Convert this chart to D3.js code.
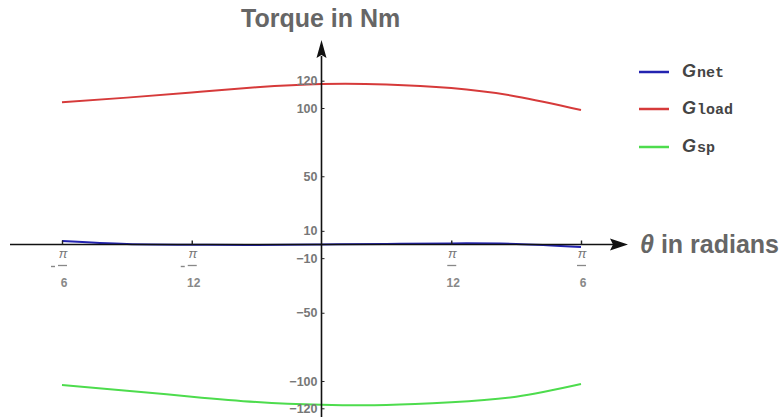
<!DOCTYPE html>
<html>
<head>
<meta charset="utf-8">
<script src="https://cdn.jsdelivr.net/npm/d3@7"></script>
<style>
  body { margin: 0; background: #fff; }
  text { font-family: "Liberation Sans", Arial, sans-serif; }
</style>
</head>
<body>
<div id="chart"></div>
<script>
var PI = Math.PI;
// sample angles, -pi/6 .. pi/6 in pi/24 steps
var theta = [-PI/6, -PI/8, -PI/12, -PI/24, 0, PI/24, PI/12, PI/8, PI/6];
var gNet  = [2.5, 0.3, -0.2, -0.3, 0, 0.4, 0.8, 0.4, -1.8];
var gLoad = [104.2, 107.6, 111.4, 115.2, 117.6, 117.3, 114.6, 108.5, 98.5];
var gSp   = [-102.9, -107.1, -111.5, -115.4, -117.4, -117.6, -115.6, -111.5, -102.2];

var yTicks = [120, 100, 50, 10, -10, -50, -100, -120];
var xTicks = [-PI/6, -PI/12, PI/12, PI/6];
var xTickDen = ["6", "12", "12", "6"];

var series = [
  {name: "load", values: gLoad, color: "#d63a3a"},
  {name: "sp",   values: gSp,   color: "#4ddc4d"},
  {name: "net",  values: gNet,  color: "#2323b0"}
];
var legend = [
  {sub: "net",  color: "#2323b0"},
  {sub: "load", color: "#d63a3a"},
  {sub: "sp",   color: "#4ddc4d"}
];

function main() {
    var W = 783, H = 417;
    var x = d3.scaleLinear().domain([-PI/6, PI/6]).range([62, 581]);
    var y = d3.scaleLinear().domain([-120, 120]).range([408.3, 80.7]);

    var svg = d3.select("#chart").append("svg")
        .attr("width", W).attr("height", H);

    var x0 = x(0), y0 = y(0);

    // curves
    var line = d3.line()
        .x(function(d, i) { return x(theta[i]); })
        .y(function(d) { return y(d); })
        .curve(d3.curveNatural);

    svg.append("g").selectAll("path")
        .data(series)
        .enter().append("path")
        .attr("d", function(s) { return line(s.values); })
        .attr("fill", "none")
        .attr("stroke", function(s) { return s.color; })
        .attr("stroke-width", 2);

    // axes lines with arrows
    svg.append("line")
        .attr("x1", 10).attr("x2", 614)
        .attr("y1", y0).attr("y2", y0)
        .attr("stroke", "#111").attr("stroke-width", 1.6);
    svg.append("path")
        .attr("d", "M" + 628 + "," + y0 + "L" + 610 + "," + (y0 - 6) + "L" + 613 + "," + y0 + "L" + 610 + "," + (y0 + 6) + "Z")
        .attr("fill", "#111");

    svg.append("line")
        .attr("x1", x0).attr("x2", x0)
        .attr("y1", H).attr("y2", 56)
        .attr("stroke", "#111").attr("stroke-width", 1.6);
    svg.append("path")
        .attr("d", "M" + x0 + "," + 40 + "L" + (x0 - 5) + "," + 58 + "L" + x0 + "," + 55 + "L" + (x0 + 5) + "," + 58 + "Z")
        .attr("fill", "#111");

    // y ticks
    var ya = svg.append("g")
        .attr("transform", "translate(" + x0 + ",0)")
        .call(d3.axisLeft(y).tickValues(yTicks).tickSize(-3).tickPadding(4)
              .tickFormat(function(d) { return d < 0 ? "\u2212" + Math.abs(d) : d; }));
    ya.select(".domain").remove();
    ya.selectAll(".tick line").attr("stroke", "#222");
    ya.selectAll(".tick text")
        .attr("fill", "#777").attr("font-size", 12.5).attr("font-weight", "bold")
        .attr("font-family", "Liberation Sans, Arial, sans-serif");

    // x ticks
    var xa = svg.append("g")
        .attr("transform", "translate(0," + y0 + ")")
        .call(d3.axisBottom(x).tickValues(xTicks).tickSize(-4).tickFormat(""));
    xa.select(".domain").remove();
    xa.selectAll(".tick line").attr("stroke", "#222").attr("stroke-width", 1.4);

    var fr = svg.append("g").selectAll("g")
        .data(xTicks)
        .enter().append("g")
        .attr("transform", function(d) { return "translate(" + x(d) + "," + y0 + ")"; });
    fr.append("text")
        .attr("x", 1).attr("y", 13)
        .attr("text-anchor", "middle")
        .attr("font-size", 13).attr("font-style", "italic")
        .attr("font-family", "DejaVu Serif, serif")
        .attr("fill", "#777")
        .text("\u03c0");
    fr.append("line")
        .attr("x1", -4).attr("x2", 5).attr("y1", 21).attr("y2", 21)
        .attr("stroke", "#888").attr("stroke-width", 1.3);
    fr.append("text")
        .attr("x", 2).attr("y", 42)
        .attr("text-anchor", "middle")
        .attr("font-size", 12).attr("font-weight", "bold")
        .attr("fill", "#888")
        .text(function(d, i) { return xTickDen[i]; });
    fr.filter(function(d) { return d < 0; })
        .append("line")
        .attr("x1", -11).attr("x2", -7).attr("y1", 22).attr("y2", 22)
        .attr("stroke", "#888").attr("stroke-width", 1.4);

    // titles
    svg.append("text")
        .attr("x", 241).attr("y", 27)
        .attr("font-size", 25).attr("font-weight", "bold")
        .attr("fill", "#666")
        .text("Torque in Nm");

    var xt = svg.append("text")
        .attr("x", 640).attr("y", 253)
        .attr("font-size", 25).attr("font-weight", "bold")
        .attr("fill", "#666");
    xt.append("tspan").attr("font-style", "italic").text("\u03b8");
    xt.append("tspan").text(" in radians");

    // legend
    var lg = svg.append("g").selectAll("g")
        .data(legend)
        .enter().append("g")
        .attr("transform", function(d, i) { return "translate(639," + [72, 109, 147][i] + ")"; });
    lg.append("line")
        .attr("x1", 0).attr("x2", 30)
        .attr("stroke", function(d) { return d.color; })
        .attr("stroke-width", 2.5);
    var lt = lg.append("text")
        .attr("x", 43).attr("y", 5)
        .attr("fill", "#444");
    lt.append("tspan")
        .attr("font-size", 18).attr("font-weight", "bold").attr("font-style", "italic")
        .text("G");
    lt.append("tspan")
        .attr("font-family", "Liberation Mono, Courier New, monospace")
        .attr("font-size", 15).attr("font-weight", "bold")
        .attr("dx", 1)
        .text(function(d) { return d.sub; });
}

main();
</script>
</body>
</html>
